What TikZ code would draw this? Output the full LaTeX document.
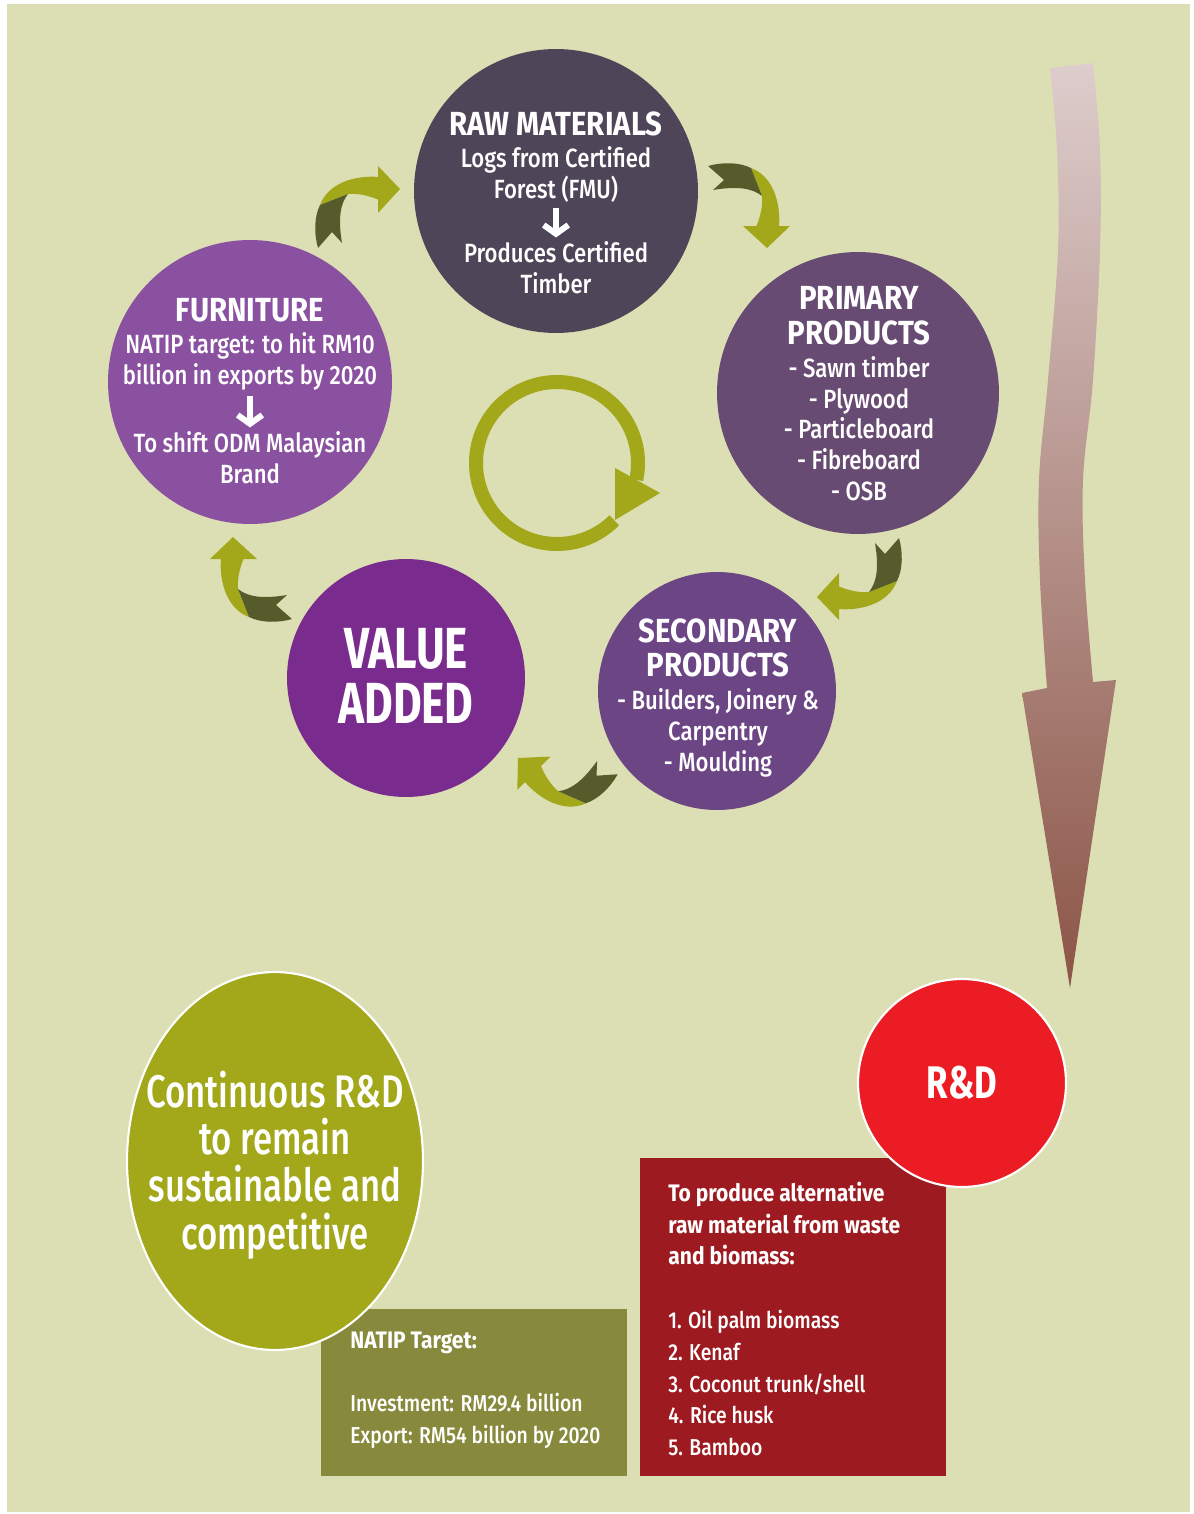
\documentclass[tikz,border=0pt]{standalone}
\usepackage{fontspec}
\setmainfont{Fira Sans}[UprightFont={* Medium}, BoldFont={* Bold}, UprightFeatures={FakeStretch=0.84}, BoldFeatures={FakeStretch=0.88}]
\newfontfamily\slimfont{Fira Sans}[UprightFont={* Medium}, BoldFont={* Bold}, FakeStretch=0.76]
\usetikzlibrary{shapes.geometric,arrows.meta}
\newcommand{\hd}[1]{{\bfseries\fontsize{19}{20}\selectfont #1}}
\newcommand{\bhd}[1]{{\bfseries\fontsize{13.6}{18.1}\selectfont #1}}
\begin{document}
\begin{tikzpicture}[x=0.02cm,y=-0.02cm,line join = round,>=Stealth]
            \definecolor{paper}{HTML}{DCDFB3}
            \definecolor{rawc}{HTML}{4E4558}
            \definecolor{primc}{HTML}{684B73}
            \definecolor{secc}{HTML}{6C4585}
            \definecolor{valc}{HTML}{7A2B8E}
            \definecolor{furnc}{HTML}{8A51A0}
            \definecolor{leaf}{HTML}{A2A81A}
            \definecolor{leafdark}{HTML}{555B2B}
            \definecolor{rdred}{HTML}{EC1C24}
            \definecolor{boxred}{HTML}{9D1B20}
            \definecolor{boxgreen}{HTML}{878A3C}
            \definecolor{arrtop}{HTML}{DDCDCC}
            \definecolor{arrmid}{HTML}{BA9A90}
            \definecolor{arrbot}{HTML}{8C5547}
            \tikzset{disc/.style={circle,minimum size=#1,inner sep=0pt},
                words/.style={text=white,align=center,inner sep=0pt,font=\fontsize{15}{17.6}\selectfont},
                downarr/.style={white,line width=3.4pt,-{Straight Barb[length=5pt,width=14pt]},shorten <=3pt,shorten >=2pt},
                block/.style={rectangle,inner sep=0pt,minimum width=6.12cm},
                turn/.pic={
                    \fill[leaf] (-22,-23)--(0,0)--(-22,24)--cycle;
                    \fill[leaf] (-21,-12)
                    ..controls (-45,-14) and (-72,-6) ..(-80,16)--(-52,5)
                    ..controls (-42,4) and (-30,7) ..(-21,11)--cycle;
                    \fill[leafdark] (-80,16)--(-52,5)
                    ..controls (-60,15) and (-62,30) ..(-58,54)--(-68,43)--(-82,59)
                    ..controls (-86,45) and (-86,28) ..(-80,16)--cycle;
            }}
            \useasboundingbox (0,0) rectangle (1193,1514);
            \fill[paper] (7,4) rectangle (1190,1512);
            %===============================
            % big arrow on the right
            \shade[top color=arrtop,middle color=arrmid,bottom color=arrbot]
            (1050,68)--plot[smooth,tension=.6] coordinates {(1093,63) (1100,150) (1100,250) (1093,380) (1083,480) (1085,580) (1093,682)}
            --(1116,680)--(1070,988)--(1022,693)
            --plot[smooth,tension=.6] coordinates {(1047,688) (1040,580) (1039,480) (1048,380) (1058,250) (1057,150) (1050,68)}--cycle;
            %===============================
            % the cycle
            \node[disc=5.68cm,fill=rawc] (raw) at (556,191) {};
            \node[disc=5.64cm,fill=primc] (prim) at (858,393) {};
            \node[disc=4.76cm,fill=secc] (sec) at (717,691) {};
            \node[disc=4.76cm,fill=valc] (val) at (406,678) {};
            \node[disc=5.68cm,fill=furnc] (furn) at (250,382) {};
            
            \node[words,anchor=south] (rawtop) at (556,203) {\hd{RAW MATERIALS}\\[1pt]Logs from Certified\\Forest (FMU)};
            \node[words,anchor=north] (rawbot) at (556,241) {Produces Certified\\Timber};
            \draw[downarr] (rawtop)--(rawbot);
            
            \node[words] (primtxt) at (859,394) {\hd{PRIMARY}\\[2pt]\hd{PRODUCTS}\\[1pt]- Sawn timber\\- Plywood\\- Particleboard\\- Fibreboard\\- OSB};
            \node[words] (sectxt) at (718,698) {\hd{SECONDARY}\\[2pt]\hd{PRODUCTS}\\[1pt]- Builders, Joinery \&\\Carpentry\\- Moulding};
            \node[words,font=\slimfont\bfseries\fontsize{33}{31}\selectfont] (valtxt) at (406,676) {VALUE\\ADDED};
            
            \node[words,anchor=south] (furntop) at (250,391) {\hd{FURNITURE}\\[1pt]NATIP target: to hit RM10\\billion in exports by 2020};
            \node[words,anchor=north] (furnbot) at (250,431) {To shift ODM Malaysian\\Brand};
            \draw[downarr] (furntop)--(furnbot);
            
            \pic at (400,189) {turn};
            \pic[rotate=-90] at (767,248) {turn};
            \pic[rotate=180] at (817,597) {turn};
            \pic[rotate=135] at (518,758) {turn};
            \pic[rotate=90] at (233,537) {turn};
            
            \draw[leaf,line width=0.28cm] (557,463) ++(45:81) arc[start angle=45,end angle=372,radius=81];
            \fill[leaf] (615,468)--(660,493)--(615,520)--cycle;
            %===============================
            % R&D part
            \node[block,minimum height=3.34cm,fill=boxgreen] (natip) at (474,1392.5) {};
            \node[words,align=left,anchor=west,font=\fontsize{13.1}{18.1}\selectfont] (natiptxt) at (350,1390) {\bhd{NATIP Target:}\\[18.1pt]Investment: RM29.4 billion\\Export: RM54 billion by 2020};
            \node[block,minimum height=6.36cm,fill=boxred] (waste) at (793,1317) {};
            \node[words,align=left,anchor=west,font=\fontsize{13.1}{18.1}\selectfont] (wastetxt) at (668,1319) {\bhd{To produce alternative}\\\bhd{raw material from waste}\\\bhd{and biomass:}\\[18.1pt]1. Oil palm biomass\\2. Kenaf\\3. Coconut trunk/shell\\4. Rice husk\\5. Bamboo};
            
            \node[ellipse,minimum width=5.92cm,minimum height=7.56cm,fill=leaf,draw=white,line width=1.2pt] (cont) at (275,1161) {};
            \node[words,font=\slimfont\fontsize{26}{27}\selectfont] (conttxt) at (275,1165) {Continuous R\&D\\to remain\\sustainable and\\competitive};
            \node[disc=4.16cm,fill=rdred,draw=white,line width=1.2pt,text=white,font=\slimfont\bfseries\fontsize{26}{28}\selectfont] (rd) at (962,1083) {R\&D};
        \end{tikzpicture}
\end{document}
